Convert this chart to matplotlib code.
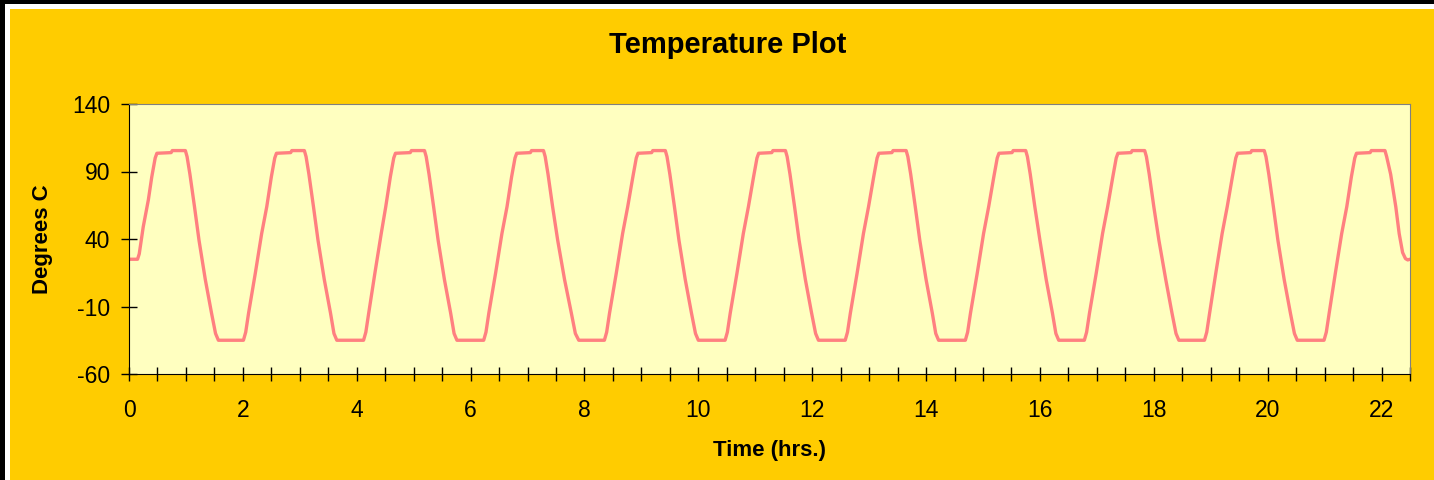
import matplotlib
matplotlib.use("Agg")
import matplotlib.pyplot as plt
from matplotlib.patches import Rectangle
from matplotlib.ticker import MultipleLocator

# logged oven temperature, one row of vertices per thermal cycle
time_hr = [
    0.00, 0.15, 0.18, 0.25, 0.34, 0.40, 0.46, 0.49, 0.74, 0.76, 0.99, 1.02, 1.07, 1.15, 1.23, 1.34, 1.45, 1.52, 1.57, 2.01,
    2.05, 2.10, 2.22, 2.33, 2.42, 2.50, 2.56, 2.59, 2.84, 2.86, 3.08, 3.11, 3.16, 3.24, 3.32, 3.43, 3.54, 3.60, 3.65, 4.12,
    4.16, 4.21, 4.32, 4.43, 4.51, 4.59, 4.65, 4.68, 4.94, 4.96, 5.19, 5.22, 5.27, 5.35, 5.43, 5.54, 5.65, 5.71, 5.76, 6.23,
    6.27, 6.32, 6.44, 6.55, 6.64, 6.72, 6.78, 6.81, 7.05, 7.07, 7.28, 7.31, 7.36, 7.44, 7.53, 7.65, 7.77, 7.84, 7.90, 8.35,
    8.39, 8.44, 8.56, 8.67, 8.76, 8.85, 8.91, 8.94, 9.18, 9.20, 9.42, 9.45, 9.50, 9.58, 9.66, 9.77, 9.88, 9.95, 10.00, 10.47,
    10.51, 10.56, 10.68, 10.79, 10.88, 10.97, 11.03, 11.06, 11.29, 11.31, 11.53, 11.56, 11.61, 11.69, 11.77, 11.88, 11.99, 12.06, 12.11, 12.58,
    12.62, 12.67, 12.79, 12.90, 12.99, 13.08, 13.14, 13.17, 13.40, 13.42, 13.65, 13.68, 13.73, 13.81, 13.89, 14.00, 14.11, 14.17, 14.22, 14.69,
    14.73, 14.78, 14.90, 15.01, 15.10, 15.19, 15.25, 15.28, 15.51, 15.53, 15.75, 15.78, 15.83, 15.91, 16.00, 16.11, 16.22, 16.28, 16.33, 16.78,
    16.82, 16.87, 16.99, 17.10, 17.19, 17.28, 17.34, 17.37, 17.60, 17.62, 17.84, 17.87, 17.92, 18.00, 18.09, 18.21, 18.32, 18.39, 18.44, 18.89,
    18.93, 18.98, 19.09, 19.20, 19.29, 19.38, 19.44, 19.47, 19.70, 19.72, 19.94, 19.97, 20.02, 20.10, 20.18, 20.29, 20.40, 20.47, 20.52, 20.99,
    21.03, 21.08, 21.19, 21.30, 21.39, 21.47, 21.53, 21.56, 21.80, 21.82, 22.06, 22.09, 22.16, 22.25, 22.31, 22.37, 22.42, 22.46, 22.50,
]
temp_c = [
    25, 25, 29, 49, 69, 86, 100, 103.5, 104, 105.5, 105.5, 101, 88, 64, 39, 10, -15, -30, -35, -35,
    -29, -15, 15, 44, 64, 86, 100, 103.5, 104, 105.5, 105.5, 101, 88, 64, 39, 10, -15, -30, -35, -35,
    -29, -15, 15, 44, 64, 86, 100, 103.5, 104, 105.5, 105.5, 101, 88, 64, 39, 10, -15, -30, -35, -35,
    -29, -15, 15, 44, 64, 86, 100, 103.5, 104, 105.5, 105.5, 101, 88, 64, 39, 10, -15, -30, -35, -35,
    -29, -15, 15, 44, 64, 86, 100, 103.5, 104, 105.5, 105.5, 101, 88, 64, 39, 10, -15, -30, -35, -35,
    -29, -15, 15, 44, 64, 86, 100, 103.5, 104, 105.5, 105.5, 101, 88, 64, 39, 10, -15, -30, -35, -35,
    -29, -15, 15, 44, 64, 86, 100, 103.5, 104, 105.5, 105.5, 101, 88, 64, 39, 10, -15, -30, -35, -35,
    -29, -15, 15, 44, 64, 86, 100, 103.5, 104, 105.5, 105.5, 101, 88, 64, 39, 10, -15, -30, -35, -35,
    -29, -15, 15, 44, 64, 86, 100, 103.5, 104, 105.5, 105.5, 101, 88, 64, 39, 10, -15, -30, -35, -35,
    -29, -15, 15, 44, 64, 86, 100, 103.5, 104, 105.5, 105.5, 101, 88, 64, 39, 10, -15, -30, -35, -35,
    -29, -15, 15, 44, 64, 86, 100, 103.5, 104, 105.5, 105.5, 101, 88, 64, 44, 30, 25.5, 24.5, 25,
]

y_ticks = [-60, -10, 40, 90, 140]
x_ticks = [0, 2, 4, 6, 8, 10, 12, 14, 16, 18, 20, 22]

plt.rcParams['font.family'] = ['Liberation Sans', 'DejaVu Sans']
plt.rcParams['axes.unicode_minus'] = False

W, H = 1434, 480
fig = plt.figure(figsize=(W / 100, H / 100), dpi=100, facecolor='black')

# black frame, thin white line, then the gold chart area
fig.patches.append(Rectangle((5 / W, 0), 1, (H - 4) / H, transform=fig.transFigure,
                             facecolor='white', edgecolor='none', zorder=-2))
fig.patches.append(Rectangle((9.5 / W, 0), 1, (H - 8.5) / H, transform=fig.transFigure,
                             facecolor='#FFCC00', edgecolor='none', zorder=-1))

ax = fig.add_axes([129 / W, 1 - 374 / H, (1410 - 129) / W, (374 - 104) / H])
ax.set_facecolor('#FFFFC0')

ax.plot(time_hr, temp_c, color='#FF8080', linewidth=2.4, solid_joinstyle='round')

ax.set_xlim(0, 22.5)
ax.set_ylim(-60, 140)
ax.set_xticks(x_ticks)
ax.xaxis.set_minor_locator(MultipleLocator(0.5))
ax.set_yticks(y_ticks)

ax.tick_params(axis='x', which='both', direction='inout', length=10, width=1, labelsize=16.5, pad=13)
ax.tick_params(axis='y', which='major', direction='inout', length=11, width=1, labelsize=16.5, pad=8)

ax.spines['top'].set_color('#808080')
ax.spines['right'].set_color('#808080')
for side in ('left', 'bottom'):
    ax.spines[side].set_color('black')

ax.set_xlabel('Time (hrs.)', fontsize=16, fontweight='bold', labelpad=13)
ax.set_ylabel('Degrees C', fontsize=16, fontweight='bold', labelpad=14)

fig.text(728 / W, 1 - 45 / H, 'Temperature Plot', ha='center', va='center',
         fontsize=21, fontweight='bold')

fig.savefig('out.png', dpi=100, facecolor=fig.get_facecolor())
